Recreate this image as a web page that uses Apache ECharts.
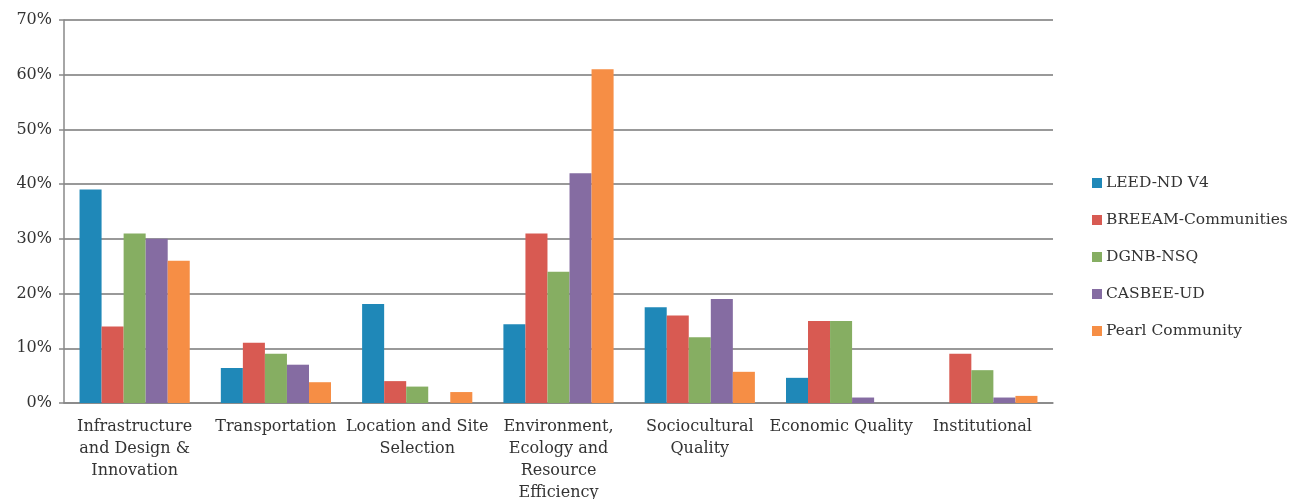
<!DOCTYPE html>
<html style="height: 100%">
<head>
    <meta charset="UTF-8">
    <title>Rating systems comparison</title>
    <script src="https://cdn.jsdelivr.net/npm/echarts/dist/echarts.min.js"></script>
</head>
<body style="height: 100%; margin: 0; background: #fff">
    <div id="main" style="width: 1294px; height: 499px"></div>
    <script type="text/javascript">
        // categories and values (% of total credits)
        var categories = ['Infrastructure\nand Design &\nInnovation', 'Transportation', 'Location and Site\nSelection',
            'Environment,\nEcology and\nResource\nEfficiency', 'Sociocultural\nQuality', 'Economic Quality', 'Institutional'];
        var seriesNames = ['LEED-ND V4', 'BREEAM-Communities', 'DGNB-NSQ', 'CASBEE-UD', 'Pearl Community'];
        var leed = [39, 6.4, 18.1, 14.4, 17.5, 4.6, 0];
        var breeam = [14, 11, 4, 31, 16, 15, 9];
        var dgnb = [31, 9, 3, 24, 12, 15, 6];
        var casbee = [30, 7, 0, 42, 19, 1, 1];
        var pearl = [26, 3.8, 2, 61, 5.7, 0, 1.3];
        var colors = ['#1f88b8', '#d85a52', '#86ae62', '#856ca2', '#f68e45'];

        var font = 'DejaVu Serif';
        var myChart = echarts.init(document.getElementById('main'));

        var allData = [leed, breeam, dgnb, casbee, pearl];
        var option = {
            animation: false,
            color: colors,
            textStyle: { fontFamily: font },
            // labels run past the bottom edge in the original, so don't let the grid shrink
            grid: { left: 64, right: 241, top: 20, bottom: 96, outerBoundsMode: 'none', containLabel: false },
            legend: {
                orient: 'vertical',
                left: 1087,
                top: 170,
                itemWidth: 10,
                itemHeight: 10,
                itemGap: 21,
                icon: 'rect',
                textStyle: { fontFamily: font, fontSize: 15.5, color: '#333', padding: [0, 0, 0, -1] },
                data: seriesNames
            },
            xAxis: {
                type: 'category',
                data: categories,
                axisLine: { lineStyle: { color: '#888', width: 1.5 } },
                axisTick: { length: 6, lineStyle: { color: '#888', width: 1.5 } },
                axisLabel: { interval: 0, fontSize: 16, color: '#333', lineHeight: 22, margin: 13 }
            },
            yAxis: {
                type: 'value',
                min: 0,
                max: 70,
                interval: 10,
                axisLine: { show: true, lineStyle: { color: '#888', width: 1.5 } },
                axisTick: { show: true, length: 5, lineStyle: { color: '#888', width: 1.5 } },
                splitLine: { lineStyle: { color: '#999', width: 2 } },
                axisLabel: { formatter: '{value}%', fontSize: 16, color: '#333', margin: 12 }
            },
            series: allData.map(function (d, i) {
                return {
                    name: seriesNames[i],
                    type: 'bar',
                    data: d,
                    barGap: '0%',
                    barCategoryGap: '22%'
                };
            })
        };

        myChart.setOption(option);
    </script>
</body>
</html>
